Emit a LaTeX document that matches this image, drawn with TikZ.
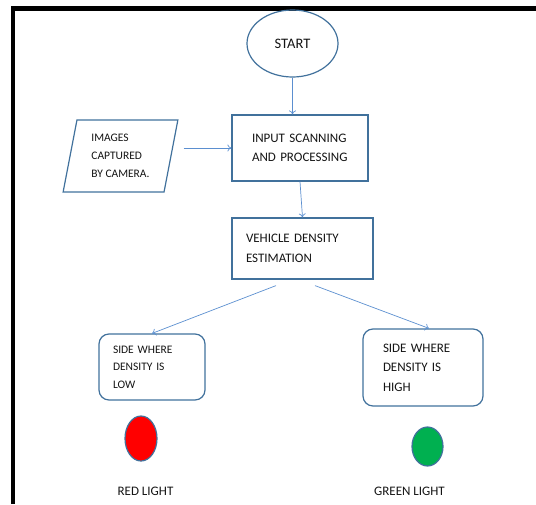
\documentclass[tikz,border=0pt]{standalone}
\usepackage{fontspec}
\setmainfont{Carlito}
\usetikzlibrary{arrows.meta,positioning,shapes.geometric,calc}
\definecolor{boxblue}{HTML}{41719C}
\definecolor{arrowblue}{HTML}{5B8FD0}
\definecolor{lampgreen}{HTML}{00B050}

\begin{document}
\begin{tikzpicture}[
    x=1pt, y=-1pt,
    every node/.style={font=\fontsize{13}{19}\selectfont,text=black!92},
    term/.style={draw=boxblue,line width=1.2pt,ellipse,minimum width=91pt,minimum height=67pt,
                 inner sep=0pt,font=\fontsize{14.5}{17}\selectfont},
    io/.style={draw=boxblue,line width=1.2pt,trapezium,trapezium left angle=78,
               trapezium right angle=102,trapezium stretches=true,minimum width=115pt,
               minimum height=72pt,align=left,inner sep=0pt,font=\fontsize{11.5}{18}\selectfont},
    proc/.style={draw=boxblue,line width=1.2pt,rectangle,align=left,inner ysep=0pt},
    side/.style={draw=boxblue,line width=1.2pt,rounded corners=10pt,align=left,inner ysep=0pt},
    lamp/.style={draw=boxblue,line width=1.2pt,ellipse,inner sep=0pt},
    line/.style={-{To[length=4pt,width=7pt]},arrowblue,line width=0.7pt},
    tag/.style={inner sep=0pt}
]
\useasboundingbox (0,0) rectangle (536,504);

% Frame
\draw[line width=4.5pt] (13,504) -- (13,8.3) -- (536,8.3);

% Start
\node[term] (start) at (292.5,43.5) {START};

% Camera input and processing
\node[io] (img) at (120.5,156) {IMAGES\\CAPTURED\\BY CAMERA.};
\node[proc,minimum height=66pt,text width=96pt,inner xsep=20pt] (scan) at (300,148)
    {INPUT SCANNING\\AND PROCESSING};
\node[proc,minimum height=61pt,text width=113pt,inner xsep=14pt,font=\fontsize{13}{20}\selectfont]
    (veh) at (302.5,248.5) {VEHICLE DENSITY\\ESTIMATION};

% Decision sides
\node[side,minimum height=66pt,text width=78pt,inner xsep=14pt,font=\fontsize{11.5}{17.5}\selectfont]
    (low) at (152,367) {SIDE WHERE\\DENSITY IS\\LOW};
\node[side,minimum height=77pt,text width=80pt,inner xsep=20pt,font=\fontsize{13}{19.5}\selectfont]
    (high) at (423,367.5) {SIDE WHERE\\DENSITY IS\\HIGH};

% Lights
\node[lamp,fill=red,minimum width=32pt,minimum height=45pt] (red) at (141,438.5) {};
\node[lamp,fill=lampgreen,minimum width=31pt,minimum height=39pt] (green) at (427.5,446.5) {};
\node[tag] (redtxt) at (145.5,491) {RED LIGHT};
\node[tag] (greentxt) at (409.5,491) {GREEN LIGHT};

% Connectors
\draw[line] (start.south) -- (start.south |- scan.north);
\draw[line,shorten <=12pt] (img.east |- scan.west) -- (scan.west);
\draw[line] (scan.south) -- (veh.north);
\draw[line] ([xshift=-26.5pt,yshift=-6pt]veh.south) -- (low.north);
\draw[line] ([xshift=12.5pt,yshift=-6pt]veh.south) -- ([xshift=6pt]high.north);

\end{tikzpicture}
\end{document}
